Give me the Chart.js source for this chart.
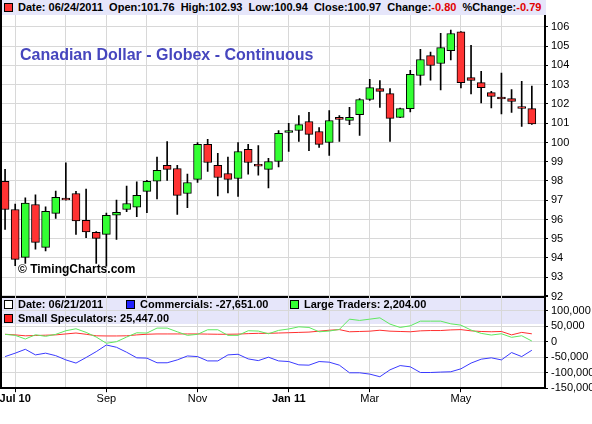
<!DOCTYPE html>
<html>
<head>
<meta charset="utf-8">
<script src="https://cdn.jsdelivr.net/npm/chart.js@4.4.0/dist/chart.umd.min.js"></script>
<style>
  body { margin: 0; background: #fff; font-family: "Liberation Sans", Arial, sans-serif; }
  #wrap { position: relative; width: 592px; height: 424px; overflow: hidden; }
  .abs { position: absolute; }
  canvas { position: absolute; left: 0; z-index: 1; }
  #band { left: 2px; top: 298px; width: 543px; height: 26px; background: #e6e6fa; z-index: 0; }
  #head { left: 0; top: 0; width: 546px; height: 15px; background: #e6e6fa; z-index: 3;
          font: bold 11px "Liberation Sans", Arial; line-height: 15px; white-space: pre; }
  #leftline { left: 0; top: 0; width: 2px; height: 389px; background: #000; z-index: 4; }
  .sq { display: inline-block; width: 7px; height: 7px; border: 1px solid #000; vertical-align: -1px; margin: 0 5px 0 4px; }
  .neg { color: #e00000; }
  #title { left: 20px; top: 47px; z-index: 3; color: #4646be; font: bold 16px "Liberation Sans", Arial; line-height: 16px; white-space: pre; }
  #mark { left: 18px; top: 262px; z-index: 3; font: bold 12px "Liberation Sans", Arial; line-height: 14px; white-space: pre; }
  .leg { z-index: 3; font: bold 11px "Liberation Sans", Arial; line-height: 13px; white-space: pre; }
</style>
</head>
<body>
<div id="wrap">
  <div id="band" class="abs"></div>
  <canvas id="price" width="592" height="305" style="top:0"></canvas>
  <canvas id="cot" width="592" height="134" style="top:290px"></canvas>
  <div id="head" class="abs"><span class="sq" style="background:#ff3333"></span>Date: 06/24/2011  Open:101.76  High:102.93  Low:100.94  Close:100.97  Change:<span class="neg">-0.80</span>  %Change:<span class="neg">-0.79</span></div>
  <div id="leftline" class="abs"></div>
  <div id="title" class="abs">Canadian Dollar - Globex - Continuous</div>
  <div id="mark" class="abs">© TimingCharts.com</div>
  <div class="abs leg" style="left:0;top:298px"><span class="sq" style="background:#fff"></span>Date: 06/21/2011</div>
  <div class="abs leg" style="left:122px;top:298px"><span class="sq" style="background:#2020ff"></span>Commercials: -27,651.00</div>
  <div class="abs leg" style="left:286px;top:298px"><span class="sq" style="background:#33ff33"></span>Large Traders: 2,204.00</div>
  <div class="abs leg" style="left:0;top:312px"><span class="sq" style="background:#ff2020"></span>Small Speculators: 25,447.00</div>
</div>
<script>
// semaines (vendredi de cloture)
const weeks = [
  "2010-06-25", "2010-07-02", "2010-07-09", "2010-07-16", "2010-07-23", "2010-07-30",
  "2010-08-06", "2010-08-13", "2010-08-20", "2010-08-27",
  "2010-09-03", "2010-09-10", "2010-09-17", "2010-09-24",
  "2010-10-01", "2010-10-08", "2010-10-15", "2010-10-22", "2010-10-29",
  "2010-11-05", "2010-11-12", "2010-11-19", "2010-11-26",
  "2010-12-03", "2010-12-10", "2010-12-17", "2010-12-24", "2010-12-31",
  "2011-01-07", "2011-01-14", "2011-01-21", "2011-01-28",
  "2011-02-04", "2011-02-11", "2011-02-18", "2011-02-25",
  "2011-03-04", "2011-03-11", "2011-03-18", "2011-03-25",
  "2011-04-01", "2011-04-08", "2011-04-15", "2011-04-22", "2011-04-29",
  "2011-05-06", "2011-05-13", "2011-05-20", "2011-05-27",
  "2011-06-03", "2011-06-10", "2011-06-17", "2011-06-24"
];

const openP = [97.98, 96.52, 94.03, 96.78, 94.55, 96.32, 97.11, 97.35, 95.95, 95.33,
  95.23, 96.23, 96.52, 96.64, 97.46, 97.99, 98.81, 98.65, 97.35, 98.08,
  99.90, 98.81, 98.39, 98.13, 99.64, 98.87, 98.60, 99.01, 100.52, 100.62,
  101.09, 100.57, 100.00, 101.30, 101.14, 101.45, 102.23, 102.80, 102.54, 101.30,
  101.76, 103.48, 104.51, 104.10, 104.77, 105.75, 103.37, 103.11, 102.59, 102.36,
  102.28, 101.87, 101.76];
const highP = [98.61, 96.80, 97.13, 97.28, 96.66, 97.47, 98.94, 97.46, 97.58, 95.37,
  96.33, 97.01, 97.73, 97.96, 98.03, 99.24, 100.05, 98.81, 98.36, 100.00,
  100.16, 99.44, 99.24, 100.00, 99.91, 99.84, 99.17, 100.62, 100.99, 101.40,
  101.56, 100.78, 101.66, 101.40, 101.82, 102.28, 103.28, 103.22, 102.80, 101.78,
  103.75, 104.84, 104.69, 105.67, 105.84, 105.76, 105.05, 103.70, 102.65, 103.60,
  102.75, 103.17, 102.93];
const lowP = [95.49, 93.60, 93.72, 94.46, 94.37, 96.06, 97.00, 95.23, 95.05, 93.72,
  93.58, 94.97, 96.40, 96.14, 96.35, 97.07, 98.03, 96.26, 96.61, 97.92,
  98.50, 97.23, 97.38, 97.20, 98.36, 98.30, 97.64, 98.73, 99.53, 100.05,
  99.58, 99.74, 99.33, 100.05, 100.93, 100.36, 102.18, 101.82, 100.05, 101.29,
  101.59, 102.97, 103.23, 102.73, 104.29, 102.83, 102.52, 102.05, 101.80, 101.48,
  101.56, 100.83, 100.94];
const closeP = [96.52, 93.93, 96.85, 94.81, 96.42, 97.15, 97.01, 95.92, 95.35, 95.02,
  96.21, 96.37, 96.83, 97.25, 97.98, 98.55, 98.60, 97.25, 97.92, 99.90,
  98.96, 98.18, 98.08, 99.53, 98.96, 98.77, 99.01, 100.47, 100.62, 100.93,
  100.42, 99.90, 101.14, 101.20, 101.30, 102.23, 102.85, 102.65, 101.25, 101.76,
  103.54, 104.31, 104.00, 104.93, 105.66, 103.11, 103.22, 102.85, 102.39, 102.26,
  102.13, 101.77, 100.97];

// COT
const commercials = [-48000, -37000, -24500, -42600, -37000, -45000, -58700, -69000, -51000, -32000,
  -10600, -18000, -34000, -52000, -53000, -68000, -68000, -58700, -46000, -48000,
  -62000, -62000, -42600, -40500, -55500, -61000, -50000, -62000, -64000, -74700,
  -75700, -64000, -66000, -75700, -100300, -100300, -104500, -113000, -90700, -77000,
  -81000, -99400, -99400, -98000, -97000, -87500, -69000, -56400, -52000, -58700,
  -35000, -48000, -27651];
const largeTraders = [23700, 20500, 8700, 22400, 17300, 23700, 35300, 41700, 30100, 15000,
  -5100, 0, 15000, 28800, 27900, 43900, 43900, 32000, 20500, 23700,
  38500, 38500, 20500, 20500, 35300, 34300, 25600, 36500, 41000, 48000,
  46000, 32000, 34300, 39700, 72700, 68600, 72700, 77000, 56700, 46000,
  51300, 66300, 66300, 66300, 57700, 53500, 37500, 26900, 21500, 25600,
  14100, 19200, 2204];
const smallSpecs = [24000, 22000, 19000, 20000, 21000, 22000, 25000, 28000, 24000, 19000,
  18500, 18500, 19000, 22000, 24000, 25000, 25000, 25000, 25000, 25000,
  24500, 24000, 24000, 24500, 26000, 27000, 27000, 28000, 29000, 30000,
  31000, 34000, 37000, 39000, 32000, 33000, 34000, 37000, 34000, 33000,
  32000, 35000, 36000, 36000, 38000, 39000, 35000, 33000, 32000, 33000,
  22000, 30000, 25447];

// etiquettes des axes
const priceTicks = [92, 93, 94, 95, 96, 97, 98, 99, 100, 101, 102, 103, 104, 105, 106];
const cotTicks = [-150000, -100000, -50000, 0, 50000, 100000, 150000];
const xLabels = ["Jul 10", "Sep", "Nov", "Jan 11", "Mar", "May"];
const xLabelIdx = [1, 10, 19, 28, 36, 45];

// premiere semaine de chaque mois -> lignes verticales
const monthStarts = weeks.map((w, i) => i).filter(i => i > 0 && weeks[i].slice(5, 7) !== weeks[i - 1].slice(5, 7));

const fam = '"Liberation Sans", Arial, sans-serif';
const gridCol = "#d8d8d8";
const xMin = -0.5, xMax = 53.3;

function xScale(extra) {
  return Object.assign({
    type: "linear", min: xMin, max: xMax, offset: false,
    afterBuildTicks: s => { s.ticks = monthStarts.map(v => ({ value: v })); },
  }, extra);
}

//* graphique des prix
new Chart(document.getElementById("price"), {
  type: "bar",
  data: {
    datasets: [
      {
        label: "corps",
        data: weeks.map((w, i) => ({ x: i, y: [openP[i], closeP[i]] })),
        backgroundColor: weeks.map((w, i) => closeP[i] >= openP[i] ? "#33ff33" : "#ff3333"),
        borderColor: "#000", borderWidth: 1, borderSkipped: false,
        barThickness: 8, grouped: false
      },
      {
        label: "meche",
        data: weeks.map((w, i) => ({ x: i, y: [lowP[i], highP[i]] })),
        backgroundColor: "#000", borderWidth: 0, barThickness: 1, grouped: false
      }
    ]
  },
  options: {
    responsive: false, animation: false, devicePixelRatio: 1,
    layout: { padding: 0 },
    plugins: { legend: { display: false }, tooltip: { enabled: false } },
    scales: {
      x: xScale({
        ticks: { display: false },
        grid: { color: gridCol, drawTicks: false, offset: false },
        border: { color: "#000", width: 2 },
        afterFit: s => { s.height = 8.5; s.paddingLeft = 0; s.paddingRight = 0; }
      }),
      y: {
        position: "right", min: 92, max: 107.4,
        afterBuildTicks: s => { s.ticks = priceTicks.map(v => ({ value: v })); },
        ticks: { color: "#000", padding: 3, autoSkip: false, font: { family: fam, size: 11 } },
        grid: { color: gridCol, tickLength: 3, tickColor: "#000" },
        border: { color: "#000", width: 2 },
        afterFit: s => { s.width = 47; s.paddingTop = 0; s.paddingBottom = 0; }
      }
    }
  }
});

//* graphique COT
const line = (label, data, color) => ({
  label, data: data.map((v, i) => ({ x: i, y: v })),
  borderColor: color, borderWidth: 1, pointRadius: 0, tension: 0, fill: false
});

new Chart(document.getElementById("cot"), {
  type: "line",
  data: {
    datasets: [
      line("Commercials", commercials, "#3a3aff"),
      line("Large Traders", largeTraders, "#5ee85e"),
      line("Small Speculators", smallSpecs, "#ff3030")
    ]
  },
  options: {
    responsive: false, animation: false, devicePixelRatio: 1,
    layout: { padding: { top: 5.2 } },
    plugins: { legend: { display: false }, tooltip: { enabled: false } },
    scales: {
      x: xScale({
        ticks: {
          color: "#000", padding: 0, maxRotation: 0, autoSkip: false,
          callback: v => { const k = xLabelIdx.indexOf(v); return k < 0 ? "" : xLabels[k]; },
          font: c => ({ family: fam, size: 11, weight: /\d/.test(xLabels[xLabelIdx.indexOf(c.tick && c.tick.value)] || "") ? "bold" : "normal" })
        },
        grid: {
          color: gridCol, tickLength: 4, offset: false,
          tickColor: c => xLabelIdx.includes(c.tick && c.tick.value) ? "#000" : "rgba(0,0,0,0)"
        },
        border: { color: "#000", width: 2 },
        afterFit: s => { s.height = 35.8; s.paddingLeft = 0; s.paddingRight = 0; }
      }),
      y: {
        position: "right", min: -150000, max: 150000,
        afterBuildTicks: s => { s.ticks = cotTicks.map(v => ({ value: v })); },
        ticks: {
          color: "#000", padding: 3, autoSkip: false, font: { family: fam, size: 11 },
          callback: v => v >= 150000 ? "" : v.toLocaleString("en-US")
        },
        grid: { color: gridCol, tickLength: 3, tickColor: "#000" },
        border: { color: "#000", width: 2 },
        afterFit: s => { s.width = 47; s.paddingTop = 0; s.paddingBottom = 0; }
      }
    }
  }
});
</script>
</body>
</html>
